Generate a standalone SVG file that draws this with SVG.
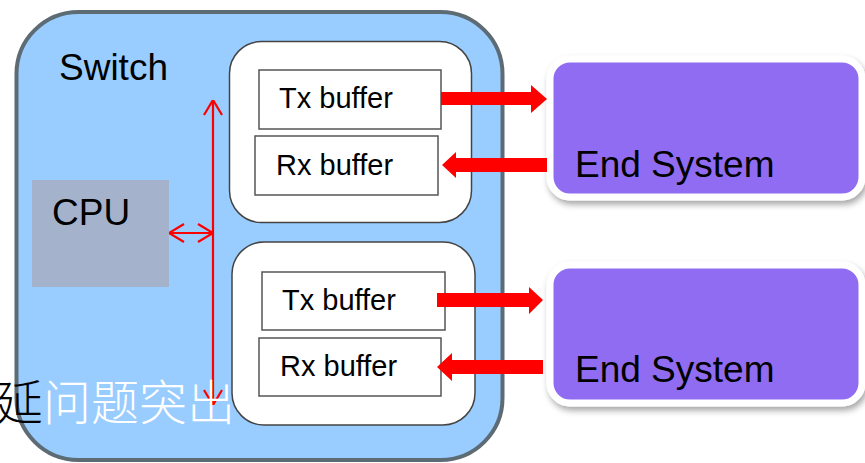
<svg xmlns="http://www.w3.org/2000/svg" width="865" height="463" viewBox="0 0 865 463">
  <style>
    .lbl { font-family: "Liberation Sans", Arial, sans-serif; fill: #000; }
    .big { font-size: 37px; }
    .buf { font-size: 29px; }
    .port { fill: #fff; stroke: #444; stroke-width: 1.5; }
    .bufbox { fill: #fff; stroke: #555; stroke-width: 1.5; }
    .es { fill: #8f6cf2; stroke: #fff; stroke-width: 7; filter: url(#shadow); }
    .bus { stroke: #ff0000; stroke-width: 2.2; fill: none; }
    .block { fill: #ff0000; }
  </style>
  <defs>
    <marker id="vee" viewBox="0 0 16 20" refX="16" refY="10" markerWidth="16" markerHeight="20" markerUnits="userSpaceOnUse" orient="auto-start-reverse">
      <path d="M1,1 L16,10 L1,19" fill="none" stroke="#ff0000" stroke-width="2.2"/>
    </marker>
    <filter id="shadow" x="-10%" y="-10%" width="130%" height="140%">
      <feDropShadow dx="2" dy="4" stdDeviation="3" flood-color="#000" flood-opacity="0.35"/>
    </filter>
  </defs>

  <g id="switch">
    <rect x="16.5" y="12" width="486" height="448" rx="62" fill="#99ccff" stroke="#5d6b74" stroke-width="4"/>
    <text class="lbl big" x="59" y="80">Switch</text>
  </g>

  <g id="cpu">
    <rect x="32" y="180" width="137" height="107" fill="#a4b3cb"/>
    <text class="lbl big" x="52" y="225">CPU</text>
  </g>

  <g id="port-1">
    <rect class="port" x="229.5" y="41.5" width="242" height="181" rx="32"/>
    <g id="tx-1">
      <rect class="bufbox" x="259" y="70" width="182" height="59"/>
      <text class="lbl buf" x="279" y="108">Tx buffer</text>
    </g>
    <g id="rx-1">
      <rect class="bufbox" x="255" y="136" width="183" height="59"/>
      <text class="lbl buf" x="276" y="175">Rx buffer</text>
    </g>
  </g>

  <g id="port-2">
    <rect class="port" x="232" y="242" width="243" height="183" rx="32"/>
    <g id="tx-2">
      <rect class="bufbox" x="262" y="272" width="183" height="58"/>
      <text class="lbl buf" x="282" y="310">Tx buffer</text>
    </g>
    <g id="rx-2">
      <rect class="bufbox" x="259" y="338" width="182" height="58"/>
      <text class="lbl buf" x="280" y="376">Rx buffer</text>
    </g>
  </g>

  <g id="end-system-1">
    <rect class="es" x="550" y="59" width="312" height="138" rx="20"/>
    <text class="lbl big" x="575" y="177">End System</text>
  </g>

  <g id="end-system-2">
    <rect class="es" x="550" y="265" width="312" height="138" rx="20"/>
    <text class="lbl big" x="575" y="382">End System</text>
  </g>

  <g id="connectors">
    <!-- internal bus and CPU link -->
    <line class="bus" x1="213" y1="100" x2="213" y2="405" marker-start="url(#vee)" marker-end="url(#vee)"/>
    <line class="bus" x1="169" y1="233" x2="213" y2="233" marker-start="url(#vee)" marker-end="url(#vee)"/>
    <!-- block arrows between buffers and end systems -->
    <polygon class="block" points="441,92 531,92 531,85 547,99 531,113 531,105 441,105"/>
    <polygon class="block" points="547,158 456,158 456,152 442,165 456,178 456,172 547,172"/>
    <polygon class="block" points="437,293 529,293 529,287 543,300 529,314 529,307 437,307"/>
    <polygon class="block" points="543,360 452,360 452,353 437,367 452,381 452,374 543,374"/>
  </g>

  <g id="caption">
    <text x="-5" y="420" font-family="Noto Sans CJK SC, sans-serif" font-size="48" font-weight="300"><tspan fill="#000">延</tspan><tspan fill="#fff">问题突出</tspan></text>
  </g>
</svg>
